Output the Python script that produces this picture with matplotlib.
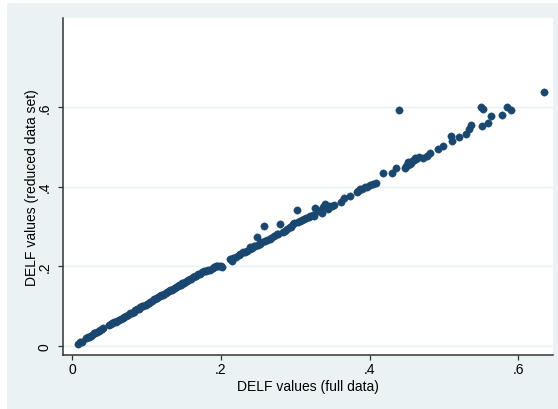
import matplotlib
matplotlib.use("Agg")
import matplotlib.pyplot as plt
from matplotlib.patches import Rectangle

plt.rcParams['font.family'] = ['Liberation Sans', 'DejaVu Sans']

# DELF values: lower run (full data x, reduced data y)
x_low = [0.008, 0.011, 0.013, 0.019, 0.021, 0.023, 0.025, 0.027, 0.029, 0.031,
         0.034, 0.036, 0.038, 0.040, 0.042, 0.050, 0.052, 0.054, 0.056, 0.059,
         0.061, 0.063, 0.066, 0.068, 0.070, 0.073, 0.075, 0.078, 0.080, 0.083,
         0.085, 0.087, 0.090, 0.092, 0.094, 0.096, 0.099, 0.101, 0.103, 0.105,
         0.108, 0.110, 0.112, 0.114, 0.116, 0.118, 0.120, 0.122, 0.124, 0.126,
         0.128, 0.130, 0.132, 0.134, 0.136, 0.138, 0.140, 0.142, 0.144, 0.146,
         0.148, 0.150, 0.152, 0.154, 0.156, 0.158, 0.160, 0.163, 0.165, 0.167,
         0.170, 0.172, 0.175, 0.177, 0.180, 0.183, 0.186, 0.189, 0.191, 0.193,
         0.195, 0.197, 0.200, 0.201]
y_low = [0.006, 0.009, 0.011, 0.021, 0.023, 0.022, 0.026, 0.028, 0.032, 0.033,
         0.035, 0.038, 0.041, 0.042, 0.045, 0.052, 0.054, 0.057, 0.059, 0.061,
         0.063, 0.066, 0.068, 0.071, 0.073, 0.076, 0.079, 0.082, 0.084, 0.086,
         0.090, 0.092, 0.094, 0.097, 0.100, 0.101, 0.103, 0.106, 0.109, 0.111,
         0.113, 0.117, 0.119, 0.121, 0.124, 0.126, 0.128, 0.129, 0.131, 0.134,
         0.136, 0.137, 0.140, 0.141, 0.144, 0.146, 0.148, 0.150, 0.152, 0.154,
         0.157, 0.158, 0.160, 0.163, 0.165, 0.167, 0.168, 0.172, 0.176, 0.175,
         0.180, 0.182, 0.185, 0.188, 0.189, 0.191, 0.192, 0.196, 0.198, 0.200,
         0.201, 0.202, 0.201, 0.198]

# upper run, incl. the scattered points above the line
x_up = [0.212, 0.215, 0.217, 0.220, 0.224, 0.226, 0.230, 0.233, 0.235, 0.239,
        0.239, 0.242, 0.244, 0.246, 0.248, 0.250, 0.253, 0.253, 0.256, 0.258,
        0.259, 0.262, 0.266, 0.268, 0.271, 0.275, 0.277, 0.280, 0.283, 0.286,
        0.289, 0.293, 0.295, 0.297, 0.299, 0.302, 0.304, 0.306, 0.309, 0.312,
        0.315, 0.318, 0.320, 0.324, 0.325, 0.327, 0.330, 0.333, 0.336, 0.338,
        0.340, 0.344, 0.346, 0.349, 0.352, 0.362, 0.365, 0.373, 0.383, 0.385,
        0.387, 0.390, 0.394, 0.397, 0.401, 0.404, 0.409, 0.418, 0.430, 0.436,
        0.440, 0.448, 0.449, 0.451, 0.452, 0.454, 0.456, 0.457, 0.459, 0.461,
        0.463, 0.467, 0.472, 0.477, 0.481, 0.492, 0.499, 0.509, 0.511, 0.520,
        0.530, 0.534, 0.536, 0.551, 0.559, 0.550, 0.552, 0.563, 0.578, 0.584,
        0.590, 0.635]
y_up = [0.218, 0.214, 0.222, 0.224, 0.228, 0.231, 0.235, 0.236, 0.239, 0.244,
        0.248, 0.246, 0.252, 0.252, 0.273, 0.254, 0.256, 0.258, 0.260, 0.302,
        0.264, 0.266, 0.269, 0.272, 0.275, 0.281, 0.281, 0.306, 0.286, 0.289,
        0.294, 0.298, 0.300, 0.306, 0.309, 0.342, 0.311, 0.315, 0.316, 0.318,
        0.322, 0.325, 0.327, 0.329, 0.327, 0.346, 0.338, 0.340, 0.335, 0.348,
        0.356, 0.345, 0.351, 0.352, 0.353, 0.362, 0.371, 0.376, 0.387, 0.390,
        0.394, 0.395, 0.398, 0.400, 0.404, 0.406, 0.409, 0.434, 0.434, 0.448,
        0.593, 0.448, 0.452, 0.455, 0.461, 0.457, 0.460, 0.465, 0.468, 0.472,
        0.470, 0.474, 0.473, 0.478, 0.484, 0.494, 0.501, 0.528, 0.514, 0.524,
        0.532, 0.545, 0.555, 0.553, 0.560, 0.600, 0.595, 0.578, 0.580, 0.599,
        0.593, 0.637]

ticks = [0, 0.2, 0.4, 0.6]
tick_labels = ['0', '.2', '.4', '.6']

navy = '#1A476F'
bg = '#EAF2F3'

fig = plt.figure(figsize=(5.58, 4.10), dpi=100)
fig.patch.set_facecolor('white')
fig.patches.append(Rectangle((7 / 558, 0), 551 / 558, 406 / 410,
                             transform=fig.transFigure, facecolor=bg,
                             edgecolor='none', zorder=-10))

ax = fig.add_axes([62.5 / 558, (410 - 356) / 410, (553 - 62.5) / 558, (356 - 19) / 410])
ax.set_facecolor('white')

ax.scatter(x_low + x_up, y_low + y_up, s=28, color=navy,
           edgecolors=navy, linewidths=0.3, zorder=3)

ax.set_xlim(-0.0128, 0.6465)
ax.set_ylim(-0.0226, 0.8235)
ax.set_xticks(ticks)
ax.set_xticklabels(tick_labels)
ax.set_yticks(ticks)
ax.set_yticklabels(tick_labels, rotation=90, va='center')
ax.grid(True, axis='y', color=bg, linewidth=1.0)
ax.set_axisbelow(True)

for side in ['top', 'right']:
    ax.spines[side].set_visible(False)
for side in ['left', 'bottom']:
    ax.spines[side].set_color('#333333')
    ax.spines[side].set_linewidth(1.1)

ax.tick_params(axis='both', direction='out', length=3.5, width=0.9,
               color='#333333', labelsize=10, labelcolor='black')
ax.tick_params(axis='x', pad=1.5)
ax.tick_params(axis='y', pad=4.5)

ax.set_xlabel('DELF values (full data)', fontsize=10, labelpad=2)
ax.set_ylabel('DELF values (reduced data set)', fontsize=10, labelpad=-1)

fig.savefig('out.png', dpi=100)
